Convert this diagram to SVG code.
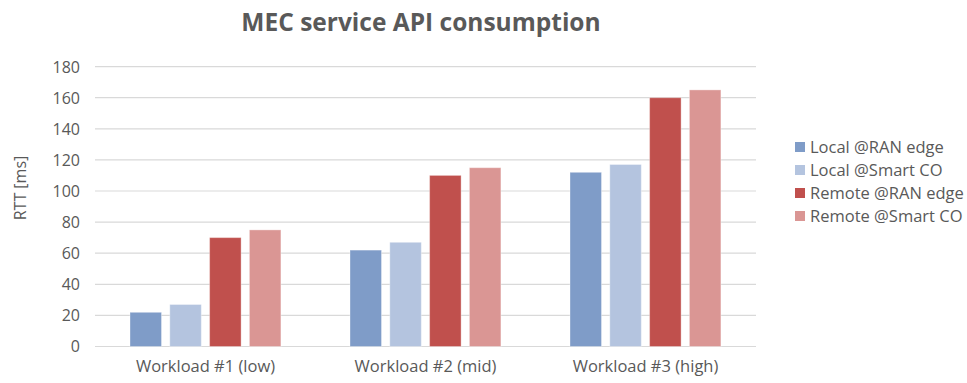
<svg xmlns="http://www.w3.org/2000/svg" width="967" height="383" viewBox="0 0 967 383">
<style>
text{font-family:"Open Sans","Liberation Sans",Arial,sans-serif;fill:#595959}
.grid{stroke:#D9D9D9;stroke-width:1.2}
.tick{font-size:16px;text-anchor:end}
.cat{font-size:16.5px;text-anchor:middle}
.leg{font-size:16.5px}
.b1{fill:#7F9CC8}.b2{fill:#B4C4DF}.b3{fill:#C0504D}.b4{fill:#DA9694}
.bar{stroke:#ffffff;stroke-opacity:0.35;stroke-width:1}
</style>
<rect width="967" height="383" fill="#ffffff"/>
<text x="421" y="31" font-size="24.5" font-weight="bold" text-anchor="middle">MEC service API consumption</text>
<g id="gridlines">
<line class="grid" x1="95" y1="346.5" x2="756" y2="346.5"/>
<line class="grid" x1="95" y1="315.4" x2="756" y2="315.4"/>
<line class="grid" x1="95" y1="284.3" x2="756" y2="284.3"/>
<line class="grid" x1="95" y1="253.2" x2="756" y2="253.2"/>
<line class="grid" x1="95" y1="222.1" x2="756" y2="222.1"/>
<line class="grid" x1="95" y1="191" x2="756" y2="191"/>
<line class="grid" x1="95" y1="159.9" x2="756" y2="159.9"/>
<line class="grid" x1="95" y1="128.8" x2="756" y2="128.8"/>
<line class="grid" x1="95" y1="97.7" x2="756" y2="97.7"/>
<line class="grid" x1="95" y1="66.6" x2="756" y2="66.6"/>
</g>
<g id="y-axis">
<text class="tick" x="80" y="352">0</text>
<text class="tick" x="80" y="321">20</text>
<text class="tick" x="80" y="290">40</text>
<text class="tick" x="80" y="259">60</text>
<text class="tick" x="80" y="228">80</text>
<text class="tick" x="80" y="196.5">100</text>
<text class="tick" x="80" y="165.5">120</text>
<text class="tick" x="80" y="134.5">140</text>
<text class="tick" x="80" y="103.5">160</text>
<text class="tick" x="80" y="72.5">180</text>
<text x="26" y="188" font-size="16" text-anchor="middle" transform="rotate(-90 26 188)">RTT [ms]</text>
</g>
<g id="workload1">
<rect class="bar b1" x="130" y="312.3" width="31.5" height="34.2"/>
<rect class="bar b2" x="169.8" y="304.5" width="31.5" height="42"/>
<rect class="bar b3" x="209.6" y="237.6" width="31.5" height="108.9"/>
<rect class="bar b4" x="249.4" y="229.9" width="31.5" height="116.6"/>
<text class="cat" x="205.5" y="372">Workload #1 (low)</text>
</g>
<g id="workload2">
<rect class="bar b1" x="350" y="250.1" width="31.5" height="96.4"/>
<rect class="bar b2" x="389.8" y="242.3" width="31.5" height="104.2"/>
<rect class="bar b3" x="429.6" y="175.4" width="31.5" height="171.1"/>
<rect class="bar b4" x="469.4" y="167.7" width="31.5" height="178.8"/>
<text class="cat" x="425.5" y="372">Workload #2 (mid)</text>
</g>
<g id="workload3">
<rect class="bar b1" x="570" y="172.3" width="31.5" height="174.2"/>
<rect class="bar b2" x="609.8" y="164.5" width="31.5" height="182"/>
<rect class="bar b3" x="649.6" y="97.7" width="31.5" height="248.8"/>
<rect class="bar b4" x="689.4" y="89.9" width="31.5" height="256.6"/>
<text class="cat" x="645.5" y="372">Workload #3 (high)</text>
</g>
<g id="legend">
<rect class="b1" x="795" y="142" width="10" height="10"/>
<text class="leg" x="810" y="153">Local @RAN edge</text>
<rect class="b2" x="795" y="165" width="10" height="10"/>
<text class="leg" x="810" y="176">Local @Smart CO</text>
<rect class="b3" x="795" y="188" width="10" height="10"/>
<text class="leg" x="810" y="199">Remote @RAN edge</text>
<rect class="b4" x="795" y="211" width="10" height="10"/>
<text class="leg" x="810" y="222">Remote @Smart CO</text>
</g>
</svg>
